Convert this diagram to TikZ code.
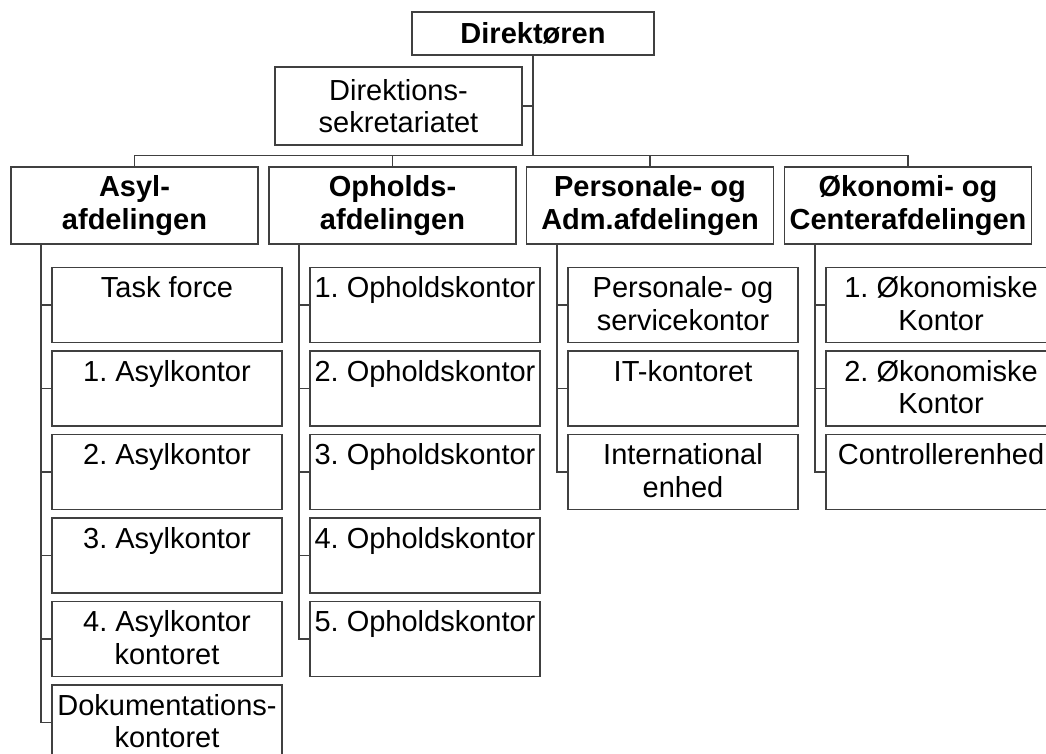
\documentclass[tikz,border=0pt]{standalone}
\usepackage{fontspec}
\setmainfont{Liberation Sans}
\frenchspacing
\definecolor{linec}{HTML}{404040}
\newcommand\kidtext[1]{\parbox[c][75pt][t]{230pt}{\centering\rule{0pt}{30pt}#1}}
\tikzset{
  box/.style={draw=linec, line width=1.1pt, inner sep=0pt, text=black,
    font=\fontsize{29}{32.5}\selectfont},
  dept/.style={box, minimum width=247pt, minimum height=77pt, align=center,
    font=\fontsize{29}{33}\selectfont\bfseries},
  kid/.style={box},
  conn/.style={draw=linec, line width=1.1pt},
}
\begin{document}
\begin{tikzpicture}[x=1pt,y=-1pt]
\useasboundingbox (0,0) rectangle (1046,754);
\clip (0,0) rectangle (1046,754);
\fill[white] (0,0) rectangle (1046,754);
% top
\node[box, minimum width=242pt, minimum height=43pt, font=\fontsize{29}{32.5}\selectfont\bfseries] (dir) at (533,33.5) {Direktøren};
\node[box, minimum width=247pt, minimum height=78pt, align=center] (sek) at (398.5,106) {Direktions-\\sekretariatet};
\coordinate (bus) at (0,155.5);
% departments
\node[dept] (asyl) at (134.5,205.5) {Asyl-\\afdelingen};
\node[dept] (oph)  at (392.5,205.5) {Opholds-\\afdelingen};
\node[dept] (pers) at (650,205.5) {Personale- og\\Adm.afdelingen};
\node[dept] (okon) at (908,205.5) {Økonomi- og\\Centerafdelingen};
% connectors top
\draw[conn] (dir.south) -- (dir.south |- bus);
\draw[conn] (sek.east) -- (sek.east -| dir.south);
\draw[conn] (asyl.north) -- (asyl.north |- bus) -- (okon.north |- bus) -- (okon.north);
\draw[conn] (oph.north) -- (oph.north |- bus);
\draw[conn] (pers.north) -- (pers.north |- bus);
% Asyl children
\node[kid] (a1) at (167,305)   {\kidtext{Task force}};
\node[kid] (a2) at (167,388.5) {\kidtext{1. Asylkontor}};
\node[kid] (a3) at (167,472)   {\kidtext{2. Asylkontor}};
\node[kid] (a4) at (167,555.5) {\kidtext{3. Asylkontor}};
\node[kid] (a5) at (167,639)   {\kidtext{4. Asylkontor\\kontoret}};
\node[kid] (a6) at (167,722.5) {\kidtext{Dokumentations-\\kontoret}};
% Ophold children
\node[kid] (o1) at (425,305)   {\kidtext{1. Opholdskontor}};
\node[kid] (o2) at (425,388.5) {\kidtext{2. Opholdskontor}};
\node[kid] (o3) at (425,472)   {\kidtext{3. Opholdskontor}};
\node[kid] (o4) at (425,555.5) {\kidtext{4. Opholdskontor}};
\node[kid] (o5) at (425,639)   {\kidtext{5. Opholdskontor}};
% Personale children
\node[kid] (p1) at (683,305)   {\kidtext{Personale- og\\servicekontor}};
\node[kid] (p2) at (683,388.5) {\kidtext{IT-kontoret}};
\node[kid] (p3) at (683,472)   {\kidtext{International\\enhed}};
% Okonomi children
\node[kid] (k1) at (941,305)   {\kidtext{1. Økonomiske\\Kontor}};
\node[kid] (k2) at (941,388.5) {\kidtext{2. Økonomiske\\Kontor}};
\node[kid] (k3) at (941,472)   {\kidtext{Controllerenhed}};
% spine coordinates
\coordinate (sa) at (41,0);
\coordinate (so) at (299,0);
\coordinate (sp) at (557,0);
\coordinate (sk) at (815,0);
% Asyl connectors
\draw[conn] (sa |- asyl.south) |- (a6.west);
\foreach \n in {a1,a2,a3,a4,a5} \draw[conn] (sa |- \n.west) -- (\n.west);
% Ophold connectors
\draw[conn] (so |- oph.south) |- (o5.west);
\foreach \n in {o1,o2,o3,o4} \draw[conn] (so |- \n.west) -- (\n.west);
% Personale connectors
\draw[conn] (sp |- pers.south) |- (p3.west);
\foreach \n in {p1,p2} \draw[conn] (sp |- \n.west) -- (\n.west);
% Okonomi connectors
\draw[conn] (sk |- okon.south) |- (k3.west);
\foreach \n in {k1,k2} \draw[conn] (sk |- \n.west) -- (\n.west);
\end{tikzpicture}
\end{document}
